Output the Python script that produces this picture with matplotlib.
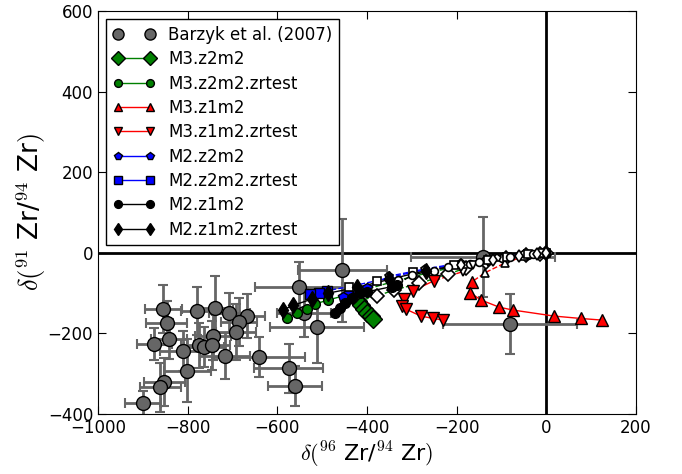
import matplotlib
matplotlib.use("Agg")
import matplotlib.pyplot as plt
from matplotlib.lines import Line2D

plt.rcParams['mathtext.fontset'] = 'cm'
plt.rcParams['font.size'] = 12

# Barzyk et al. (2007) grains
barzyk_x = [-854, -847, -841, -874, -811, -801, -852, -861, -900, -780, -739, -707, -668, -685, -692,
            -744, -775, -764, -746, -717, -642, -455, -552, -512, -575, -560, -540, -141, -81]
barzyk_y = [-140, -175, -214, -227, -243, -293, -321, -334, -372, -144, -136, -150, -157, -171, -196,
            -207, -230, -234, -230, -256, -258, -43, -84, -183, -287, -330, -149, -10, -177]
barzyk_xerr = [42, 45, 40, 40, 50, 52, 45, 45, 40, 35, 40, 45, 40, 40, 45,
               40, 40, 45, 40, 55, 103, 100, 97, 105, 76, 60, 60, 160, 150]
barzyk_yerr = [60, 55, 50, 40, 50, 78, 60, 60, 30, 60, 78, 50, 55, 60, 70,
               60, 55, 50, 60, 58, 50, 128, 60, 90, 60, 50, 60, 100, 75]

# model tracks, starting at the origin; first n_open points are O-rich (open markers)
m3_z2m2_x = [0, -15, -45, -90, -135, -180, -220, -283, -339, -377, -420, -413, -406, -399, -392, -387]
m3_z2m2_y = [0, -2, -6, -12, -24, -38, -53, -76, -92, -107, -120, -130, -140, -150, -158, -165]

m3_z2m2_zr_x = [0, -40, -100, -170, -250, -330, -400, -440, -486, -516, -534, -557, -579]
m3_z2m2_zr_y = [0, -5, -14, -28, -46, -68, -90, -103, -117, -127, -140, -150, -163]

m3_z1m2_x = [0, -20, -50, -92, -136, -166, -170, -146, -105, -75, 17, 77, 124]
m3_z1m2_y = [0, -3, -9, -25, -49, -72, -99, -117, -135, -142, -157, -163, -167]

m3_z1m2_zr_x = [0, -40, -90, -130, -163, -187, -250, -297, -317, -323, -313, -280, -252, -230]
m3_z1m2_zr_y = [0, -5, -13, -22, -30, -47, -69, -94, -115, -132, -140, -157, -163, -167]

m2_z2m2_x = [0, -50, -110, -190, -270, -350, -401, -442, -454]
m2_z2m2_y = [0, -4, -12, -25, -40, -58, -88, -102, -110]

m2_z2m2_zr_x = [0, -10, -40, -88, -130, -207, -298, -377, -440, -489, -506, -527]
m2_z2m2_zr_y = [0, -1, -4, -10, -17, -30, -48, -69, -84, -94, -99, -103]

m2_z1m2_x = [0, -30, -80, -150, -220, -300, -334, -345, -401, -416, -434, -449, -460, -471]
m2_z1m2_y = [0, -3, -10, -22, -36, -55, -80, -84, -97, -100, -113, -125, -138, -150]

m2_z1m2_zr_x = [0, -20, -60, -120, -190, -268, -350, -422, -486, -523, -564, -588]
m2_z1m2_zr_y = [0, -2, -8, -18, -30, -44, -66, -86, -100, -115, -130, -142]

n_open = {"M3.z2m2": 10, "M3.z2m2.zrtest": 7, "M3.z1m2": 5, "M3.z1m2.zrtest": 6,
          "M2.z2m2": 6, "M2.z2m2.zrtest": 9, "M2.z1m2": 6, "M2.z1m2.zrtest": 5}

models = [
    ("M3.z2m2", m3_z2m2_x, m3_z2m2_y, "g", "D", 9),
    ("M3.z2m2.zrtest", m3_z2m2_zr_x, m3_z2m2_zr_y, "g", "o", 7),
    ("M3.z1m2", m3_z1m2_x, m3_z1m2_y, "r", "^", 8),
    ("M3.z1m2.zrtest", m3_z1m2_zr_x, m3_z1m2_zr_y, "r", "v", 8),
    ("M2.z2m2", m2_z2m2_x, m2_z2m2_y, "b", "p", 7),
    ("M2.z2m2.zrtest", m2_z2m2_zr_x, m2_z2m2_zr_y, "b", "s", 7),
    ("M2.z1m2", m2_z1m2_x, m2_z1m2_y, "k", "o", 7),
    ("M2.z1m2.zrtest", m2_z1m2_zr_x, m2_z1m2_zr_y, "k", "d", 8),
]

fig = plt.figure(figsize=(6.82, 4.74), dpi=100)
ax = fig.add_axes([0.1437, 0.1266, 0.7889, 0.8502])

ax.axhline(0, color="k", lw=2, zorder=1)
ax.axvline(0, color="k", lw=2, zorder=1)

ax.errorbar(barzyk_x, barzyk_y, xerr=barzyk_xerr, yerr=barzyk_yerr, fmt="o", color="0.4",
            ecolor="0.4", elinewidth=2, capsize=3.5, capthick=1.5, ms=10, mfc="0.4", mec="k",
            zorder=2)

handles = [Line2D([], [], ls="none", marker="o", ms=8, mfc="0.4", mec="k")]
labels = ["Barzyk et al. (2007)"]
for name, xs, ys, c, m, ms in models:
    n = n_open[name]
    ax.plot(xs[:n + 1], ys[:n + 1], ls="--", color=c, lw=1, zorder=3)
    ax.plot(xs[n:], ys[n:], ls="-", color=c, lw=1, zorder=3)
    ax.plot(xs[:n], ys[:n], ls="none", marker=m, ms=ms * 0.8, mfc="w", mec="k", mew=1.2, zorder=4)
    ax.plot(xs[n:], ys[n:], ls="none", marker=m, ms=ms, mfc=c, mec="k", zorder=4)
    handles.append(Line2D([], [], color=c, lw=1, marker=m, ms=ms * 0.8, mfc=c, mec="k"))
    labels.append(name)

ax.set_xlim(-1000, 200)
ax.set_ylim(-400, 600)
ax.set_xticks(range(-1000, 201, 200))
ax.set_yticks(range(-400, 601, 200))
ax.tick_params(direction="in", top=True, right=True, length=6)

ax.set_xlabel(r"$\delta(^{96}$ Zr/$^{94}$ Zr$)$", fontsize=16, labelpad=2)
ax.set_ylabel(r"$\delta(^{91}$ Zr/$^{94}$ Zr$)$", fontsize=19, labelpad=0)

ax.legend(handles, labels, loc="upper left", numpoints=2, handlelength=2.5,
          fontsize=12, fancybox=False, edgecolor="k", framealpha=1, labelspacing=0.38)

fig.savefig("out.png", dpi=100)
